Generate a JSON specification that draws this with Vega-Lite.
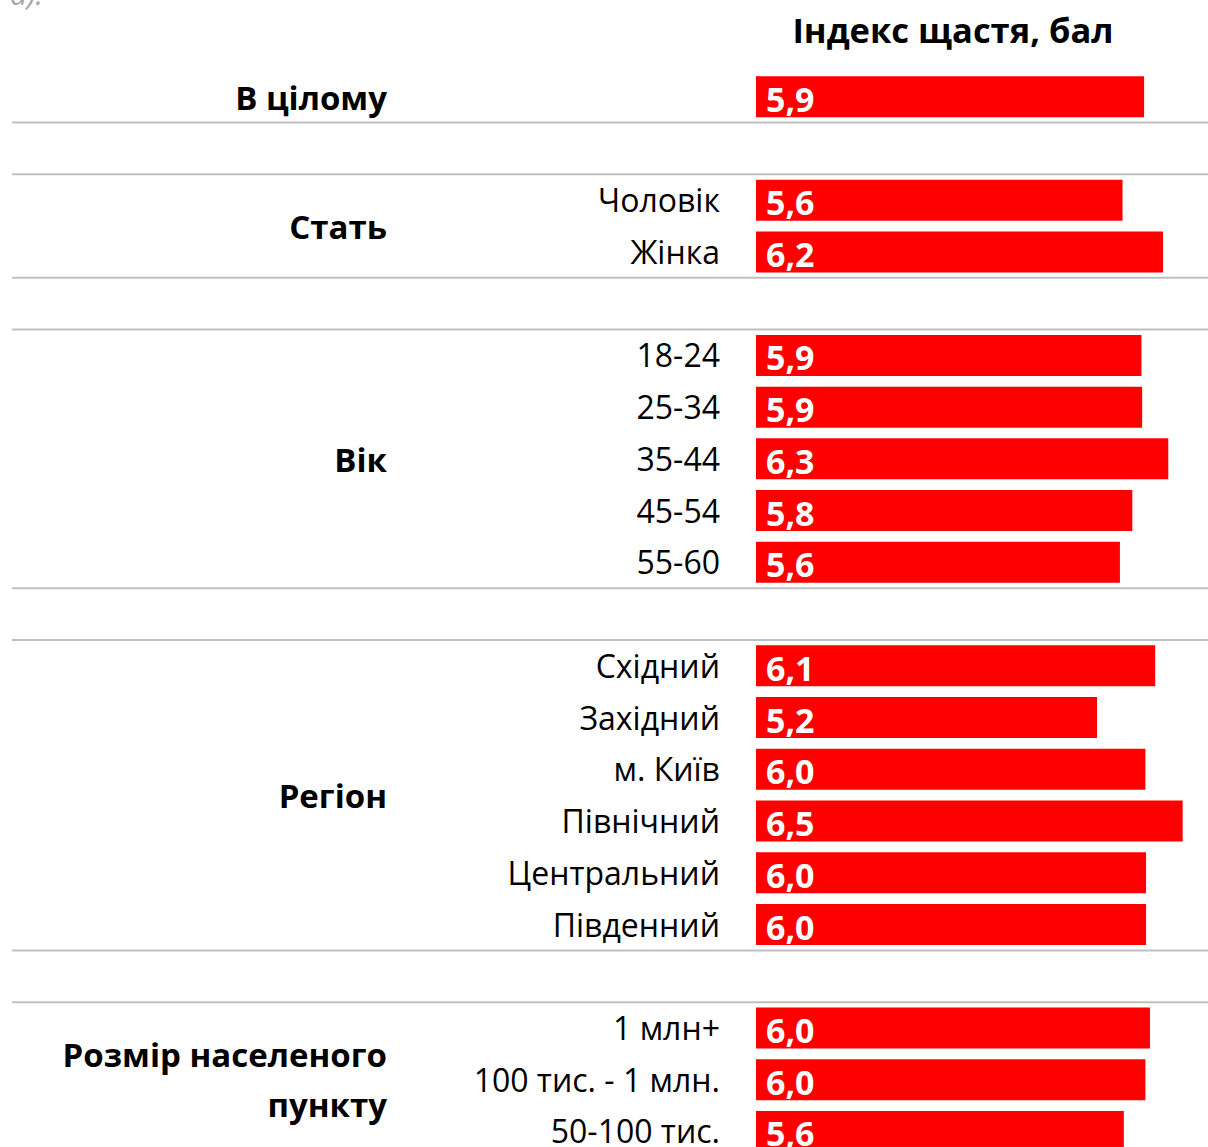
{
  "$schema": "https://vega.github.io/schema/vega-lite/v6.json",
  "width": 1208,
  "height": 1147,
  "autosize": {"type": "none"},
  "padding": 0,
  "background": "white",
  "config": {
    "view": {"stroke": null},
    "locale": {"number": {"decimal": ",", "thousands": " ", "grouping": [3], "currency": ["", " грн"]}}
  },
  "datasets": {
    "rows": [
      {"row": 0, "label": "", "value": 5.94},
      {"row": 2, "label": "Чоловік", "value": 5.61},
      {"row": 3, "label": "Жінка", "value": 6.23},
      {"row": 5, "label": "18-24", "value": 5.90},
      {"row": 6, "label": "25-34", "value": 5.91},
      {"row": 7, "label": "35-44", "value": 6.31},
      {"row": 8, "label": "45-54", "value": 5.76},
      {"row": 9, "label": "55-60", "value": 5.57},
      {"row": 11, "label": "Східний", "value": 6.11},
      {"row": 12, "label": "Західний", "value": 5.22},
      {"row": 13, "label": "м. Київ", "value": 5.96},
      {"row": 14, "label": "Північний", "value": 6.53},
      {"row": 15, "label": "Центральний", "value": 5.97},
      {"row": 16, "label": "Південний", "value": 5.97},
      {"row": 18, "label": "1 млн+", "value": 6.03},
      {"row": 19, "label": "100 тис. - 1 млн.", "value": 5.96},
      {"row": 20, "label": "50-100 тис.", "value": 5.63}
    ],
    "groups": [
      {"pos": 0, "name": "В цілому"},
      {"pos": 2.5, "name": "Стать"},
      {"pos": 7, "name": "Вік"},
      {"pos": 13.5, "name": "Регіон"},
      {"pos": 18.5, "name": "Розмір населеного\nпункту"}
    ],
    "seps": [
      {"pos": 0.5}, {"pos": 1.5}, {"pos": 3.5}, {"pos": 4.5},
      {"pos": 9.5}, {"pos": 10.5}, {"pos": 16.5}, {"pos": 17.5}
    ]
  },
  "layer": [
    {
      "data": {"name": "seps"},
      "mark": {"type": "rule", "color": "#BFBFBF", "strokeWidth": 2},
      "encoding": {
        "y": {"field": "pos", "type": "quantitative", "axis": null,
              "scale": {"domain": [-1.869, 20.30], "reverse": true, "nice": false, "zero": false, "padding": 0}},
        "x": {"datum": -11.386, "type": "quantitative", "axis": null,
              "scale": {"domain": [-11.570, 6.918], "nice": false, "zero": false, "padding": 0}},
        "x2": {"datum": 6.918}
      }
    },
    {
      "data": {"name": "rows"},
      "mark": {"type": "bar", "orient": "horizontal", "size": 41, "color": "#FF0000"},
      "encoding": {
        "y": {"field": "row", "type": "quantitative", "axis": null,
              "scale": {"domain": [-1.869, 20.30], "reverse": true, "nice": false, "zero": false, "padding": 0}},
        "x": {"field": "value", "type": "quantitative", "axis": null,
              "scale": {"domain": [-11.570, 6.918], "nice": false, "zero": false, "padding": 0}}
      }
    },
    {
      "data": {"name": "rows"},
      "mark": {"type": "text", "align": "left", "baseline": "alphabetic", "dx": 10, "dy": 15,
               "font": "Open Sans", "fontWeight": "bold", "fontSize": 34, "color": "white"},
      "encoding": {
        "y": {"field": "row", "type": "quantitative"},
        "x": {"datum": 0, "type": "quantitative"},
        "text": {"field": "value", "type": "quantitative", "format": ".1f"}
      }
    },
    {
      "data": {"name": "rows"},
      "mark": {"type": "text", "align": "right", "baseline": "alphabetic", "dy": 12,
               "font": "Open Sans", "fontSize": 32, "color": "black"},
      "encoding": {
        "y": {"field": "row", "type": "quantitative"},
        "x": {"datum": -0.551, "type": "quantitative"},
        "text": {"field": "label"}
      }
    },
    {
      "data": {"name": "groups"},
      "mark": {"type": "text", "align": "right", "baseline": "alphabetic", "dy": 13, "lineBreak": "\n", "lineHeight": 50,
               "font": "Open Sans", "fontWeight": "bold", "fontSize": 33, "color": "black"},
      "encoding": {
        "y": {"field": "pos", "type": "quantitative"},
        "x": {"datum": -5.647, "type": "quantitative"},
        "text": {"field": "name"}
      }
    },
    {
      "data": {"values": [{"t": "Індекс щастя, бал"}]},
      "mark": {"type": "text", "align": "center", "baseline": "alphabetic",
               "font": "Open Sans", "fontWeight": "bold", "fontSize": 34.5, "color": "black"},
      "encoding": {
        "y": {"datum": -1.044, "type": "quantitative"},
        "x": {"datum": 3.015, "type": "quantitative"},
        "text": {"field": "t"}
      }
    },
    {
      "data": {"values": [{"t": "а)."}]},
      "mark": {"type": "text", "align": "right", "baseline": "alphabetic",
               "font": "Open Sans", "fontStyle": "italic", "fontSize": 30, "color": "#A6A6A6"},
      "encoding": {
        "y": {"datum": -1.772, "type": "quantitative"},
        "x": {"datum": -10.91, "type": "quantitative"},
        "text": {"field": "t"}
      }
    }
  ]
}
